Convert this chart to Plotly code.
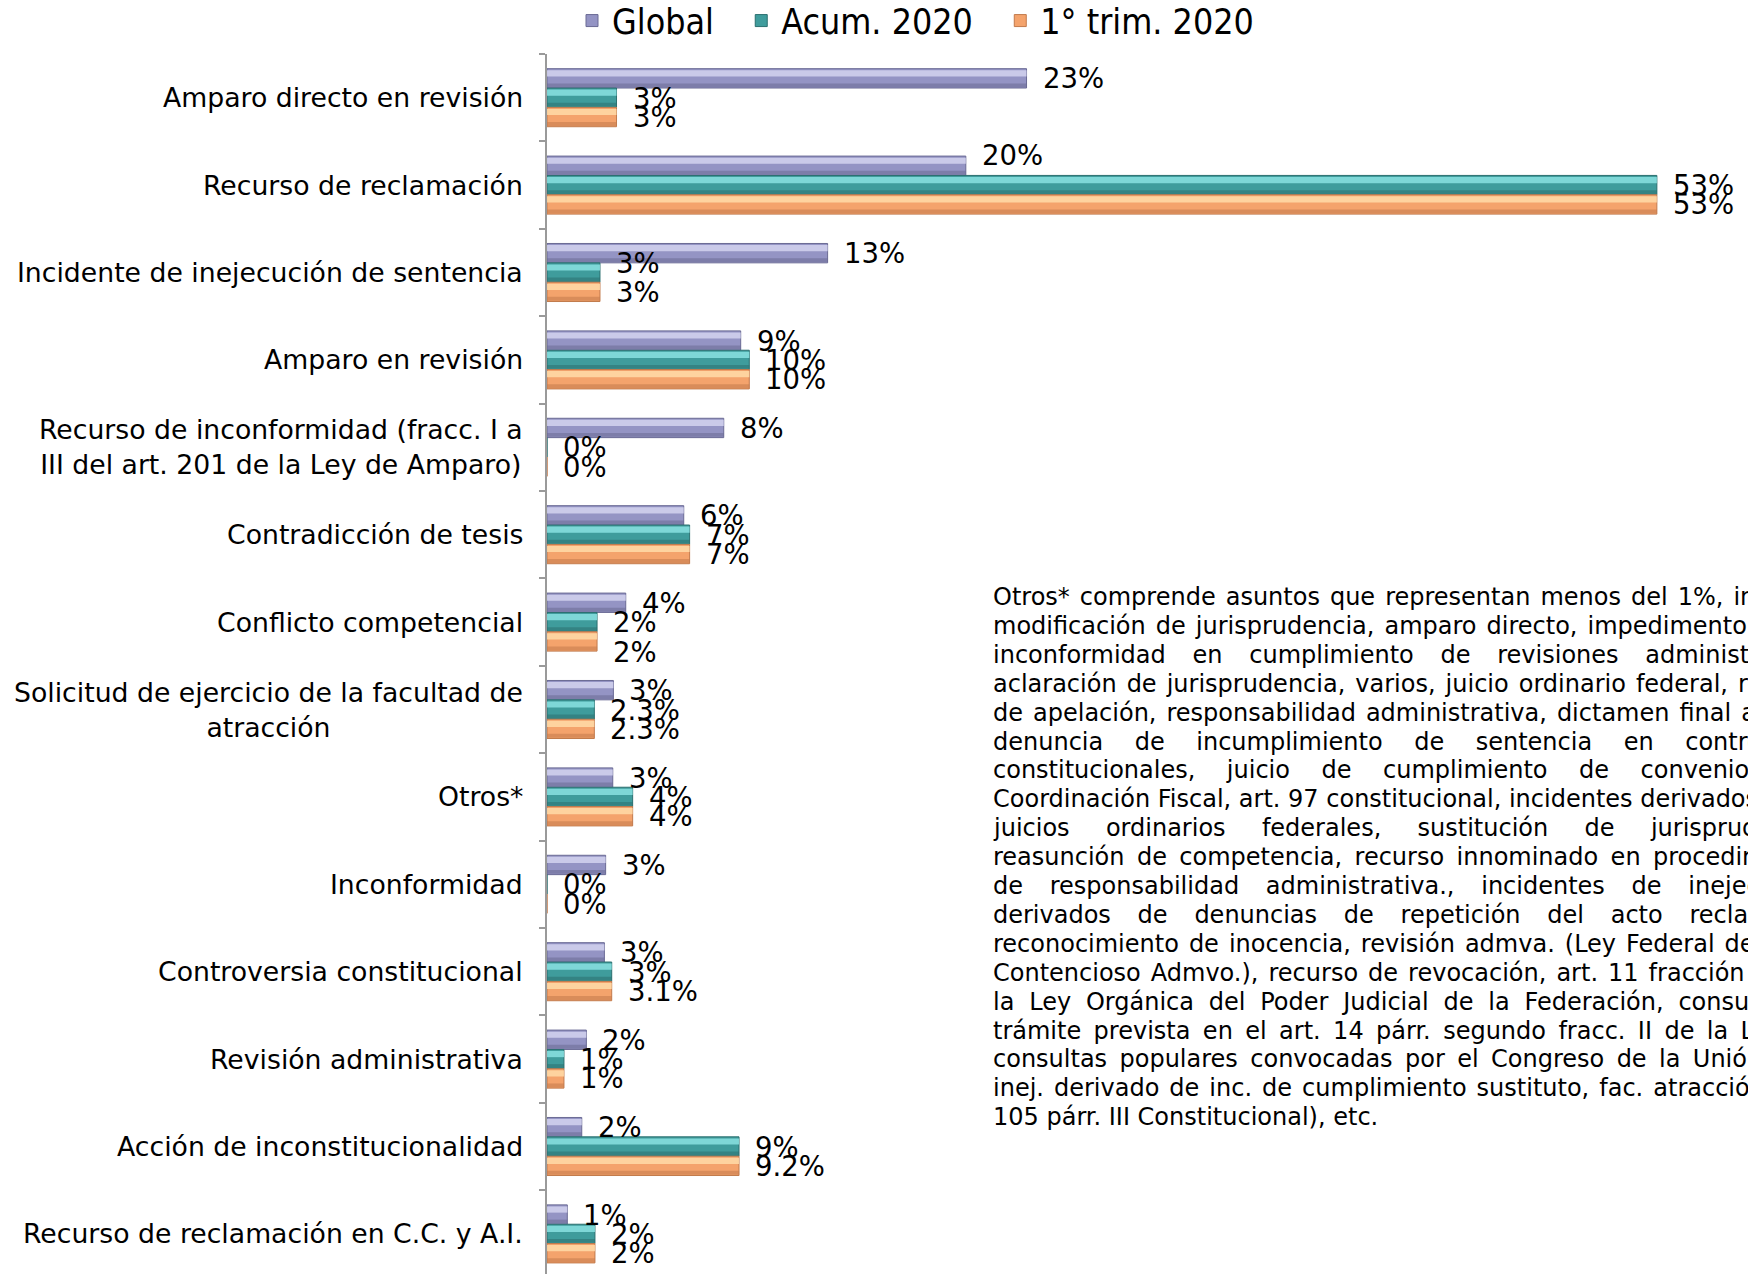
import plotly.graph_objects as go

# ---------------- data ----------------
categories = [
    "Amparo directo en revisión",
    "Recurso de reclamación",
    "Incidente de inejecución de sentencia",
    "Amparo en revisión",
    "Recurso de inconformidad (fracc. I a<br>III del art. 201 de la Ley de Amparo)",
    "Contradicción de tesis",
    "Conflicto competencial",
    "Solicitud de ejercicio de la facultad de<br>atracción",
    "Otros*",
    "Inconformidad",
    "Controversia constitucional",
    "Revisión administrativa",
    "Acción de inconstitucionalidad",
    "Recurso de reclamación en C.C. y A.I.",
]

series_names = ["Global", "Acum. 2020", "1° trim. 2020"]

global_vals = [22.9, 20.0, 13.4, 9.25, 8.44, 6.53, 3.76, 3.17, 3.14, 2.80, 2.74, 1.88, 1.66, 0.97]
acum_vals = [3.32, 53.0, 2.53, 9.66, 0.0, 6.81, 2.39, 2.26, 4.09, 0.0, 3.09, 0.81, 9.17, 2.29]
trim_vals = [3.32, 53.0, 2.53, 9.66, 0.0, 6.81, 2.39, 2.26, 4.09, 0.0, 3.09, 0.81, 9.17, 2.29]

global_labels = ["23%", "20%", "13%", "9%", "8%", "6%", "4%", "3%", "3%", "3%", "3%", "2%", "2%", "1%"]
acum_labels = ["3%", "53%", "3%", "10%", "0%", "7%", "2%", "2.3%", "4%", "0%", "3%", "1%", "9%", "2%"]
trim_labels = ["3%", "53%", "3%", "10%", "0%", "7%", "2%", "2.3%", "4%", "0%", "3.1%", "1%", "9.2%", "2%"]

note_lines = [
    ("Otros* comprende asuntos que representan menos del 1%, incluye:", 2.0),
    ("modificación de jurisprudencia, amparo directo, impedimento,", 1.3),
    ("inconformidad en cumplimiento de revisiones administrativas,", 18.0),
    ("aclaración de jurisprudencia, varios, juicio ordinario federal, recurso", 2.6),
    ("de apelación, responsabilidad administrativa, dictamen final a", 1.8),
    ("denuncia de incumplimiento de sentencia en controversias", 24.7),
    ("constitucionales, juicio de cumplimiento de convenios", 23.0),
    ("Coordinación Fiscal, art. 97 constitucional, incidentes derivados", 0.0),
    ("juicios ordinarios federales, sustitución de jurisprudencia,", 29.5),
    ("reasunción de competencia, recurso innominado en procedimiento", 5.2),
    ("de responsabilidad administrativa., incidentes de inejecución", 19.6),
    ("derivados de denuncias de repetición del acto reclamado,", 19.3),
    ("reconocimiento de inocencia, revisión admva. (Ley Federal de", 3.1),
    ("Contencioso Admvo.), recurso de revocación, art. 11 fracción", 2.1),
    ("la Ley Orgánica del Poder Judicial de la Federación, consulta", 7.9),
    ("trámite prevista en el art. 14 párr. segundo fracc. II de la L.C.", 3.9),
    ("consultas populares convocadas por el Congreso de la Unión,", 5.0),
    ("inej. derivado de inc. de cumplimiento sustituto, fac. atracción", 3.4),
    ("105 párr. III Constitucional), etc.", 0.0),
]

# ---------------- style ----------------
W, H = 1748, 1274
ML, MR, MT, MB = 547, 48, 54, 0
PLOT_W = W - ML - MR
PLOT_H = H - MT - MB
X_MAX = 55.06
CAT_PX = 87.4
Y_BOTTOM = -0.5 + PLOT_H / CAT_PX

FONT = "DejaVu Sans, Verdana, sans-serif"
base_cols = ["#9494C4", "#3F9C9C", "#F4A36C"]
light_cols = ["#D4D4F0", "#8AE2E2", "#FFDCA8"]
dark_cols = ["#6A6A94", "#2B6F6F", "#C27A4C"]

GROUP = 0.664
BW = GROUP / 3
offsets = [-GROUP / 2 + k * BW for k in range(3)]

# vertical nudges (px) for a few data labels, as placed in the reference
label_nudge = {(0, 1): -11, (1, 2): -10, (2, 6): 11}

vals = [global_vals, acum_vals, trim_vals]
labels = [global_labels, acum_labels, trim_labels]

fig = go.Figure()
idx = list(range(len(categories)))

legend_pad = "\u2002\u2009"
for k in range(3):
    fig.add_trace(go.Bar(
        x=vals[k], y=idx, orientation="h", name=series_names[k] + legend_pad,
        width=BW, offset=offsets[k],
        marker=dict(color=base_cols[k], line=dict(color=dark_cols[k], width=1)),
        hoverinfo="skip",
    ))
for k in range(3):
    # light bevel highlight in upper part of each bar
    fig.add_trace(go.Bar(
        x=vals[k], y=idx, orientation="h", showlegend=False,
        width=BW * 0.32, offset=offsets[k] + BW * 0.08,
        marker=dict(color=light_cols[k], line=dict(width=0), opacity=0.85),
        hoverinfo="skip",
    ))
    # darker lower edge
    fig.add_trace(go.Bar(
        x=vals[k], y=idx, orientation="h", showlegend=False,
        width=BW * 0.2, offset=offsets[k] + BW * 0.76,
        marker=dict(color=dark_cols[k], line=dict(width=0), opacity=0.55),
        hoverinfo="skip",
    ))

annotations = []
# category labels
for i, c in enumerate(categories):
    annotations.append(dict(
        x=0, xref="paper", xanchor="right", xshift=-22,
        y=i, yref="y", yanchor="middle", align="center",
        text=c, showarrow=False, font=dict(family=FONT, size=26.7, color="#000"),
    ))
# data labels
for k in range(3):
    for i in idx:
        annotations.append(dict(
            x=vals[k][i], xref="x", xanchor="left", xshift=14,
            y=i + offsets[k] + BW / 2, yref="y", yanchor="middle",
            yshift=-label_nudge.get((k, i), 0),
            text=labels[k][i], showarrow=False,
            font=dict(family=FONT, size=27.5, color="#000"),
        ))

# note text (justified lines emulated with hair spaces)
HAIR = 2.4
NOTE_X = 991
NOTE_Y0 = 597
NOTE_DY = 28.9
for j, (line, extra) in enumerate(note_lines):
    sep = " " + "\u200a" * int(round(extra / HAIR))
    txt = sep.join(line.split(" "))
    py = NOTE_Y0 + j * NOTE_DY
    annotations.append(dict(
        x=(NOTE_X - ML) / PLOT_W, xref="paper", xanchor="left",
        y=1 - (py - MT) / PLOT_H, yref="paper", yanchor="middle",
        text=txt, showarrow=False, align="left",
        font=dict(family=FONT, size=24, color="#000"),
    ))

fig.update_layout(
    width=W, height=H,
    margin=dict(l=ML, r=MR, t=MT, b=MB, pad=0),
    paper_bgcolor="white", plot_bgcolor="white",
    barmode="overlay",
    showlegend=True,
    legend=dict(
        orientation="h", xref="container", yref="container",
        x=572 / W, xanchor="left", y=1 - 21 / H, yanchor="middle",
        font=dict(family="DejaVu Sans Condensed, DejaVu Sans", size=35.5, color="#000"),
        bgcolor="rgba(0,0,0,0)", traceorder="normal",
    ),
    xaxis=dict(range=[0, X_MAX], showgrid=False, zeroline=False, showline=False,
               showticklabels=False, ticks=""),
    yaxis=dict(type="linear", range=[Y_BOTTOM, -0.5], showgrid=False, zeroline=False,
               showline=True, linecolor="#9A9A9A", linewidth=1.5,
               tickmode="linear", tick0=-0.5, dtick=1,
               ticks="outside", ticklen=6, tickcolor="#9A9A9A", tickwidth=1.5,
               showticklabels=False),
    annotations=annotations,
)

fig.write_html(
    "out.html",
    config={"displayModeBar": False},
    post_script="document.body.style.margin='0';document.body.style.overflow='hidden';",
)
